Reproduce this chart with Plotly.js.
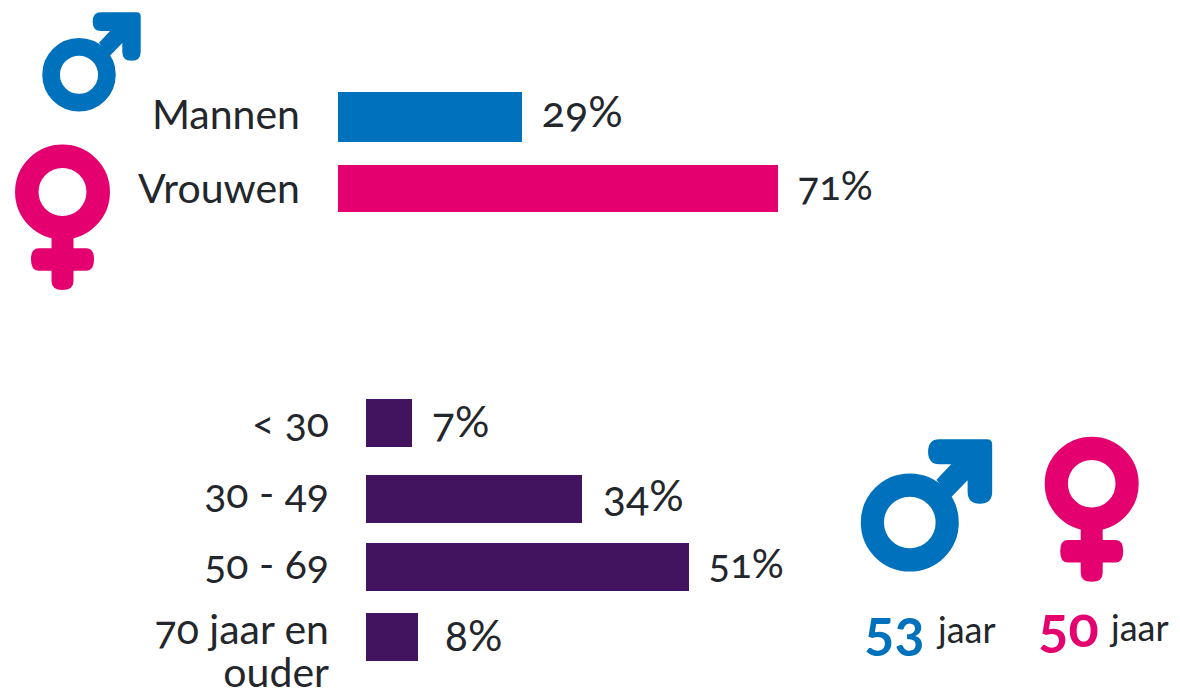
<!DOCTYPE html>
<html><head><meta charset="utf-8">
<script src="https://cdn.plot.ly/plotly-3.0.1.min.js"></script>
<style>
html,body{margin:0;padding:0;background:#fff}
.main-svg text{font-feature-settings:"onum" 1,"lnum" 0;font-variant-numeric:oldstyle-nums}
</style></head><body>
<div id="chart" style="width:1180px;height:691px"></div>
<script>
const genderCategories = ["Mannen", "Vrouwen"];
const genderValues = [29.4, 70.4];
const genderLabels = ["29%", "71%"];
const ageCategories = ["< 30", "30 - 49", "50 - 69", "70 jaar en", "ouder"];
const ageValues = [7.2, 34, 50.9, 8.2];
const ageLabels = ["7%", "34%", "51%", "8%"];
const ageMean = ["53", "50"];

const BLUE = "#0071BC", PINK = "#E5006F", PURPLE = "#42145F", INK = "#23262b";
const FONT = "Lato, 'Open Sans', sans-serif";
const W = 1180, H = 691;
const px = x => x / W, py = y => 1 - y / H;
const genderRows = [0, 71.5];
const genderHeights = [50, 47];
const genderTicks = [-2.5, 71.5];
const genderLabelShift = [7, 4];
const genderLabelSize = [43, 40];
const ageRows = [0, 76, 144, 214];
const ageTicks = [0, 71, 142, 207, 250];
const ageLabelXShift = [17, 17, 16, 24];
const ageLabelYShift = [3, 5, 4, 3];
const ageLabelSize = [43, 43, 40, 43];

function toPath(cmds, cx, cy, s) {
  return cmds.map(c => {
    if (c === "Z") return "Z";
    const [op, ...n] = c;
    const out = [];
    for (let i = 0; i < n.length; i += 2) out.push(px(cx + n[i] * s) + "," + py(cy + n[i + 1] * s));
    return op + out.join(" ");
  }).join(" ");
}
const maleArrow = [["M",18.3,-62.4],["L",57.7,-62.4],["Q",61.7,-62.4,61.7,-58.4],["L",61.7,-23],["Q",61.7,-14,52.5,-14],["Q",43.3,-14,43.3,-23],["L",43.3,-31.7],["L",30,-18],["L",20,-32],["L",31,-43.7],["L",22,-43.7],["Q",13.7,-43.7,13.7,-53],["Q",13.7,-62.4,22,-62.4],"Z"];
const femaleCross = [["M",-11,40],["L",11,40],["L",11,56.3],["L",24,56.3],["Q",31.5,56.3,31.5,67.5],["Q",31.5,78.7,24,78.7],["L",11,78.7],["L",11,89],["Q",11,98,0,98],["Q",-11,98,-11,89],["L",-11,78.7],["L",-24,78.7],["Q",-31.5,78.7,-31.5,67.5],["Q",-31.5,56.3,-24,56.3],["L",-11,56.3],"Z"];

function ring(cx, cy, rMid, w, col) {
  return {type:"circle", xref:"paper", yref:"paper", x0:px(cx-rMid), x1:px(cx+rMid), y0:py(cy+rMid), y1:py(cy-rMid),
    line:{color:col, width:w}, fillcolor:"rgba(0,0,0,0)"};
}
function filled(cmds, cx, cy, s, col) {
  return {type:"path", xref:"paper", yref:"paper", path:toPath(cmds, cx, cy, s), fillcolor:col, line:{width:0}};
}
const shapes = [
  ring(79, 74.7, 27.9, 17.7, BLUE), filled(maleArrow, 79, 74.7, 1, BLUE),
  ring(62.5, 192, 35.7, 23.5, PINK), filled(femaleCross, 62.5, 192, 1, PINK),
  ring(909.8, 522.5, 37.4, 23.2, BLUE), filled(maleArrow, 909.8, 522.5, 1.335, BLUE),
  ring(1091.7, 483.7, 35.4, 23.2, PINK), filled(femaleCross, 1091.7, 483.7, 1, PINK)
];

const annotations = [];
genderRows.forEach((r, i) => annotations.push({xref:"x", yref:"y", x:genderValues[i], y:r, text:genderLabels[i],
  showarrow:false, xanchor:"left", xshift:16, yshift:genderLabelShift[i], font:{family:FONT, size:genderLabelSize[i], color:INK}}));
ageRows.forEach((r, i) => annotations.push({xref:"x2", yref:"y2", x:ageValues[i], y:r, text:ageLabels[i],
  showarrow:false, xanchor:"left", xshift:ageLabelXShift[i], yshift:ageLabelYShift[i], font:{family:FONT, size:ageLabelSize[i], color:INK}}));
annotations.push(
  {xref:"paper", yref:"paper", x:px(860), y:py(628), text:ageMean[0], showarrow:false, xanchor:"left", yanchor:"middle", font:{family:FONT, size:56, weight:700, color:BLUE}},
  {xref:"paper", yref:"paper", x:px(934), y:py(629), text:"jaar", showarrow:false, xanchor:"left", yanchor:"middle", font:{family:FONT, size:36, color:INK}},
  {xref:"paper", yref:"paper", x:px(1034), y:py(625), text:ageMean[1], showarrow:false, xanchor:"left", yanchor:"middle", font:{family:FONT, size:56, weight:700, color:PINK}},
  {xref:"paper", yref:"paper", x:px(1107), y:py(627), text:"jaar", showarrow:false, xanchor:"left", yanchor:"middle", font:{family:FONT, size:36, color:INK}}
);

const traces = [
  {type:"bar", orientation:"h", x:genderValues, y:genderRows, xaxis:"x", yaxis:"y",
   width:genderHeights, marker:{color:[BLUE, PINK], line:{width:0}}, hoverinfo:"none", showlegend:false},
  {type:"bar", orientation:"h", x:ageValues, y:ageRows, xaxis:"x2", yaxis:"y2",
   width:48, marker:{color:PURPLE, line:{width:0}}, hoverinfo:"none", showlegend:false}
];
const hiddenX = {range:[0,100], showgrid:false, zeroline:false, showline:false, showticklabels:false, ticks:""};
const layout = {
  width:W, height:H, margin:{l:0,r:0,t:0,b:0,pad:0}, paper_bgcolor:"#fff", plot_bgcolor:"rgba(0,0,0,0)",
  font:{family:FONT, size:41, color:INK}, showlegend:false, bargap:0,
  xaxis:Object.assign({}, hiddenX, {domain:[px(338), px(963)], anchor:"y"}),
  xaxis2:Object.assign({}, hiddenX, {domain:[px(366), px(1001)], anchor:"y2"}),
  yaxis:{domain:[py(230), py(80)], anchor:"x", range:[113,-37], showgrid:false, zeroline:false, showline:false, ticks:"", ticklabelstandoff:37,
    ticklabeloverflow:"allow", tickmode:"array", tickvals:genderTicks, ticktext:genderCategories, tickfont:{family:FONT, size:41, color:INK}},
  yaxis2:{domain:[0, py(380)], anchor:"x2", range:[268,-43], showgrid:false, zeroline:false, showline:false, ticks:"", ticklabelstandoff:36,
    ticklabeloverflow:"allow", tickmode:"array", tickvals:ageTicks, ticktext:ageCategories, tickfont:{family:FONT, size:41, color:INK}},
  shapes, annotations
};
Plotly.newPlot("chart", traces, layout, {staticPlot:true, displayModeBar:false});
</script>
</body></html>
